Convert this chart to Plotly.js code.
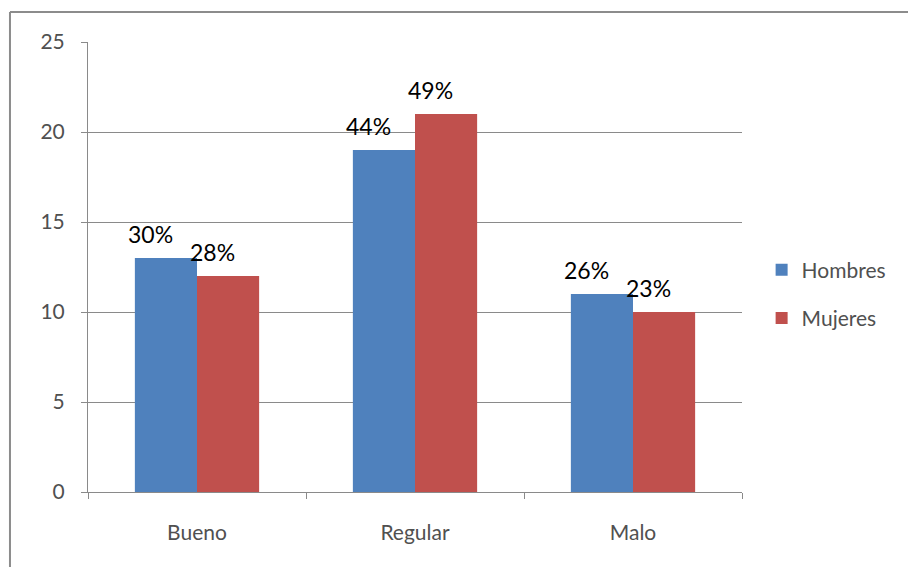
<!DOCTYPE html>
<html>
<head>
<meta charset="utf-8">
<script src="https://cdn.plot.ly/plotly-3.0.1.min.js"></script>
<style>
  html, body { margin: 0; padding: 0; background: #ffffff; }
  #chart { width: 908px; height: 567px; }
</style>
</head>
<body>
<div id="chart"></div>
<script>
// Categories and counts per group
const categories = ['Bueno', 'Regular', 'Malo'];
const hombres = [13, 19, 11];
const mujeres = [12, 21, 10];
const seriesNames = ['Hombres', 'Mujeres'];
const yTicks = [0, 5, 10, 15, 20, 25];

const colors = ['#4F81BD', '#C0504D'];
const font = 'Lato, "Open Sans", sans-serif';
const textGray = '#505050';

// Share of each category within its series, as a rounded percentage
function shares(values) {
  const total = values.reduce((a, b) => a + b, 0);
  return values.map(v => Math.round(v / total * 100) + '%');
}

const series = [hombres, mujeres];

const traces = series.map((vals, i) => ({
  type: 'bar',
  name: seriesNames[i],
  x: categories,
  y: vals,
  marker: { color: colors[i] },
  legendgroup: 'g' + i,
  hoverinfo: 'x+y+name'
}));

// Percentage labels above each bar, slightly left of the bar centre
const annotations = [];
series.forEach((vals, i) => {
  const labels = shares(vals);
  vals.forEach((v, j) => {
    annotations.push({
      x: categories[j],
      y: v,
      xref: 'x',
      yref: 'y',
      text: labels[j],
      showarrow: false,
      yanchor: 'bottom',
      xanchor: 'center',
      xshift: (i === 0 ? -31 : 31) - 16,
      yshift: 8,
      font: { family: font, size: 23, color: '#000000' }
    });
  });
});

// Frame lines along the left and top edges of the figure
const frameColor = '#8c8c8c';
const shapes = [
  { type: 'line', xref: 'paper', yref: 'paper',
    x0: -0.1193, x1: -0.1193, y0: 1.0667, y1: -0.2,
    line: { color: frameColor, width: 2 } },
  { type: 'line', xref: 'paper', yref: 'paper',
    x0: -0.1193, x1: 1.3, y0: 1.0667, y1: 1.0667,
    line: { color: frameColor, width: 2 } }
];

const layout = {
  width: 908,
  height: 567,
  margin: { l: 88, r: 166, t: 42, b: 75 },
  paper_bgcolor: '#ffffff',
  plot_bgcolor: '#ffffff',
  barmode: 'group',
  bargap: 0.43,
  bargroupgap: 0,
  font: { family: font, color: textGray },
  xaxis: {
    type: 'category',
    showgrid: false,
    showline: true,
    linecolor: '#8a8a8a',
    linewidth: 1,
    ticks: 'outside',
    tickson: 'boundaries',
    ticklen: 6,
    tickcolor: '#8a8a8a',
    tickfont: { family: font, size: 21, color: textGray },
    ticklabelstandoff: 22,
    zeroline: false
  },
  yaxis: {
    range: [0, 25],
    tickvals: yTicks,
    ticktext: yTicks.map(String),
    showgrid: true,
    gridcolor: '#8a8a8a',
    gridwidth: 1,
    showline: true,
    linecolor: '#8a8a8a',
    linewidth: 1,
    ticks: 'outside',
    ticklen: 6,
    tickcolor: '#8a8a8a',
    tickfont: { family: font, size: 21, color: textGray },
    zeroline: false,
    ticklabelstandoff: 12
  },
  legend: {
    x: 1.03,
    y: 0.44,
    xanchor: 'left',
    yanchor: 'middle',
    traceorder: 'grouped',
    tracegroupgap: 18,
    font: { family: font, size: 21, color: textGray },
    bgcolor: 'rgba(0,0,0,0)'
  },
  annotations: annotations,
  shapes: shapes,
  showlegend: true
};

Plotly.newPlot('chart', traces, layout, { displayModeBar: false, staticPlot: true });
</script>
</body>
</html>
